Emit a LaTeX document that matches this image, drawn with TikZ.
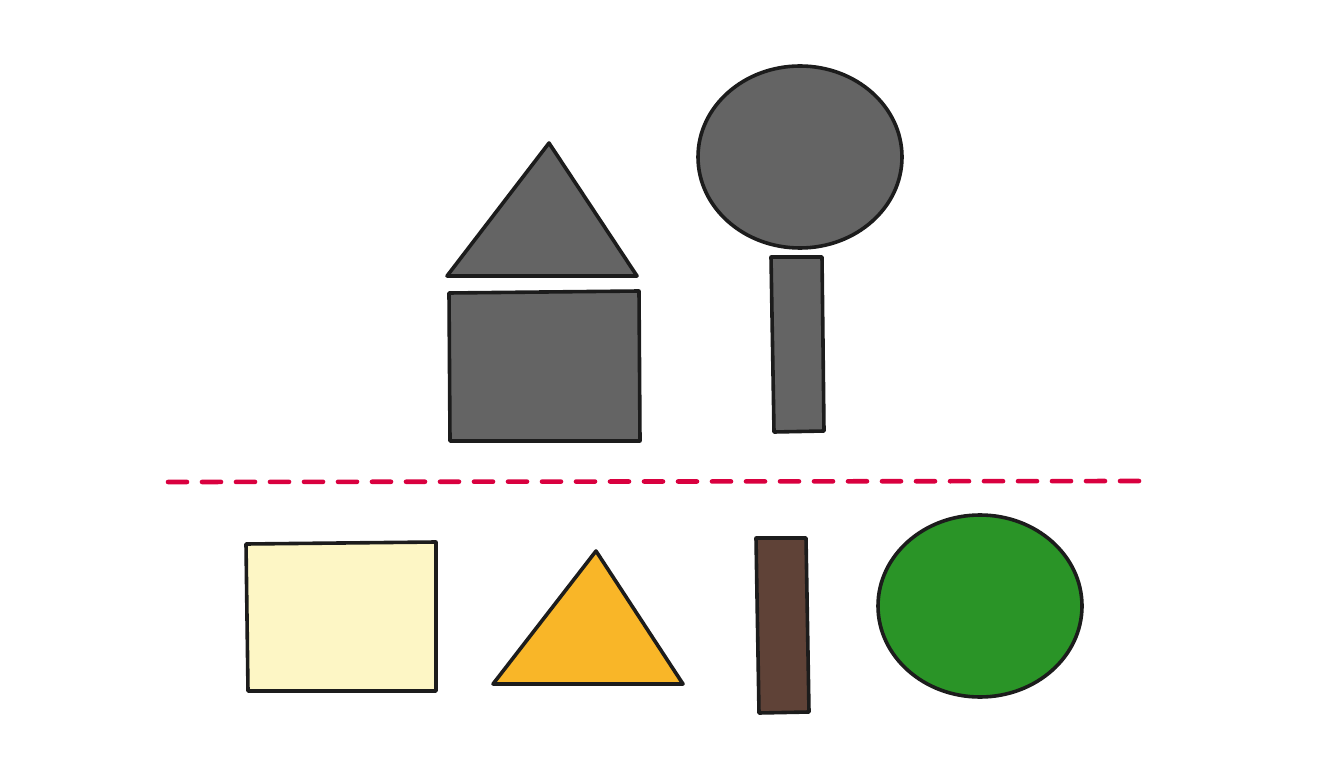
\documentclass[tikz,border=0pt]{standalone}
\usepackage{xcolor,tikz}
\definecolor{shapegray}{HTML}{646464}
\definecolor{inkline}{HTML}{1C1C1C}
\definecolor{cream}{HTML}{FDF6C5}
\definecolor{amber}{HTML}{F9B628}
\definecolor{bark}{HTML}{5F4237}
\definecolor{leaf}{HTML}{2A9427}
\definecolor{cutred}{HTML}{D9003F}
\tikzset{piece/.style={draw=inkline,line width=3.6pt,line join=round}}
\begin{document}
\begin{tikzpicture}[x=1pt,y=-1pt]
 \useasboundingbox (0,0) rectangle (1333,783);
 % assembled shapes
 \draw[piece,fill=shapegray] (549,143)--(637,276)--(447,276)--cycle;
 \draw[piece,fill=shapegray] (449,293)--(639,291)--(640,441)--(450,441)--cycle;
 \draw[piece,fill=shapegray] (800,157) ellipse (102 and 91);
 \draw[piece,fill=shapegray] (771,257)--(822,257)--(824,431)--(774,432)--cycle;
 % separator
 \draw[cutred,line width=4.6pt,line cap=round,dash pattern=on 19pt off 15pt]
 (168,482)--(1145,481);
 % loose pieces
 \draw[piece,fill=cream] (246,544)--(436,542)--(436,691)--(248,691)--cycle;
 \draw[piece,fill=amber] (596,551)--(683,684)--(493,684)--cycle;
 \draw[piece,fill=bark] (756,538)--(806,538)--(809,712)--(759,713)--cycle;
 \draw[piece,fill=leaf] (980,606) ellipse (102 and 91);
\end{tikzpicture}
\end{document}
